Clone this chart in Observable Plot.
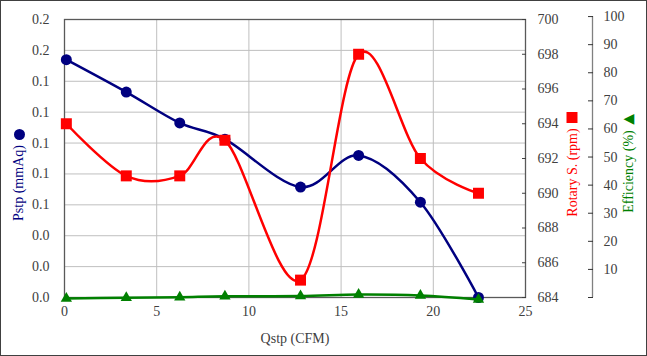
<!DOCTYPE html>
<html>
<head>
<meta charset="utf-8">
<script src="https://cdn.jsdelivr.net/npm/d3@7"></script>
<script src="https://cdn.jsdelivr.net/npm/@observablehq/plot@0.6"></script>
<style>
  html, body { margin: 0; padding: 0; background: #fff; }
  #wrap { position: relative; width: 647px; height: 356px; }
  #border { position: absolute; left: 0; top: 0; width: 647px; height: 356px; box-sizing: border-box; border: 1px solid #404040; pointer-events: none; }
  #chart svg text { font-family: 'Liberation Serif', 'Times New Roman', serif; }
  #chart svg text.sym { font-family: 'DejaVu Sans', sans-serif; }
</style>
</head>
<body>
<div id="wrap"><div id="chart"></div><div id="border"></div></div>
<script>
// Data
const qstp = [0.1, 3.35, 6.25, 8.7, 12.8, 15.95, 19.3, 22.45];          // Qstp (CFM)
const pstp = [0.154, 0.133, 0.113, 0.1025, 0.0715, 0.092, 0.0617, 0.0];  // Pstp (mmAq)
const rotary = [694.0, 691.0, 691.0, 693.05, 685.0, 698.0, 692.0, 690.0]; // Rotary S. (rpm)
const efficiency = [-0.35, -0.1, 0.1, 0.45, 0.5, 1.05, 0.7, -0.7];       // Efficiency (%)

const pTicks = [0, 0.02, 0.04, 0.06, 0.08, 0.10, 0.12, 0.14, 0.16, 0.18];
const rpmTicks = [684, 686, 688, 690, 692, 694, 696, 698, 700];
const effTicks = [0, 10, 20, 30, 40, 50, 60, 70, 80, 90, 100];
const xTicks = [0, 5, 10, 15, 20, 25];
const xGrid = [5, 10, 15, 20];

// Map secondary axes onto the primary (Pstp) scale
const rpmToP = r => (r - 684) / 16 * 0.18;
const pToRpm = p => 684 + p / 0.18 * 16;
const effToP = e => e / 100 * 0.1819;
const pToEff = p => p / 0.1819 * 100;

const rows = qstp.map((q, i) => ({
  q, p: pstp[i], r: rpmToP(rotary[i]), e: effToP(efficiency[i])
}));

const NAVY = "#000080", RED = "#ff0000", GREEN = "#008000";
const FONT = "'Liberation Serif', 'Times New Roman', serif";
const TXT = { fontFamily: FONT, fontSize: 14 };

const chart = Plot.plot({
  width: 647,
  height: 356,
  marginTop: 19,
  marginRight: 122,
  marginBottom: 59,
  marginLeft: 64,
  style: { fontFamily: FONT, fontSize: "14px", color: "#333", background: "transparent" },
  x: { domain: [0, 25] },
  y: { domain: [0, 0.18] },
  marks: [
    Plot.gridY(pTicks, { stroke: "#bfbfbf", strokeOpacity: 1, strokeWidth: 1 }),
    Plot.gridX(xGrid, { stroke: "#bfbfbf", strokeOpacity: 1, strokeWidth: 1 }),
    Plot.frame({ stroke: "#595959", strokeWidth: 1.3 }),
    Plot.axisY(pTicks, { ...TXT, anchor: "left", tickSize: 0, tickPadding: 15, tickFormat: d => d.toFixed(1), label: null, fill: "#404040" }),
    Plot.axisX(xTicks, { ...TXT, anchor: "bottom", tickSize: 0, tickPadding: 9, label: null, fill: "#404040" }),
    // Rotary axis (right of frame)
    Plot.axisY(rpmTicks.map(rpmToP), { ...TXT, anchor: "right", tickSize: 4, dx: -4, tickPadding: 12, tickFormat: p => String(Math.round(pToRpm(p))), label: null, stroke: "#404040", fill: "#404040" }),
    // Efficiency axis (offset)
    Plot.ruleX([25], { y1: effToP(0), y2: effToP(100), dx: 67, stroke: "#808080", strokeWidth: 1.3 }),
    Plot.axisY(effTicks.map(effToP), { ...TXT, anchor: "right", tickSize: 5, dx: 62, tickPadding: 11, tickFormat: p => { const v = Math.round(pToEff(p)); return v === 0 ? "" : String(v); }, label: null, stroke: "#333", fill: "#404040" }),
    // Axis titles
    Plot.text(["Qstp (CFM)"], { ...TXT, frameAnchor: "bottom", textAnchor: "middle", lineAnchor: "middle", dy: 41, fill: "#404040" }),
    Plot.text(["Pstp (mmAq)"], { ...TXT, frameAnchor: "left", textAnchor: "middle", lineAnchor: "middle", dx: -46, dy: 24.5, rotate: -90, fill: NAVY }),
    Plot.dot([0], { x: null, y: null, frameAnchor: "left", dx: -45, dy: -24, r: 5.5, fill: NAVY, stroke: "none" }),
    Plot.text(["Rotary S. (rpm)"], { ...TXT, frameAnchor: "right", textAnchor: "middle", lineAnchor: "middle", dx: 47, dy: 14, rotate: -90, fill: RED }),
    Plot.dot([0], { x: null, y: null, frameAnchor: "right", dx: 46.5, dy: -41, symbol: "square", r: 6.2, fill: RED, stroke: "none" }),
    Plot.text(["Efficiency (%)"], { ...TXT, frameAnchor: "right", textAnchor: "middle", lineAnchor: "middle", dx: 103.5, dy: 13, rotate: -90, fill: GREEN }),
    Plot.text(["◀"], { frameAnchor: "right", textAnchor: "middle", lineAnchor: "middle", dx: 103.5, dy: -40, fill: GREEN, fontSize: 14, className: "sym" }),
    // Series
    Plot.line(rows, { x: "q", y: "p", curve: "cardinal", stroke: NAVY, strokeWidth: 2.5 }),
    Plot.dot(rows, { x: "q", y: "p", r: 5.5, fill: NAVY, stroke: "none" }),
    Plot.line(rows, { x: "q", y: "r", curve: "cardinal", stroke: RED, strokeWidth: 2.5 }),
    Plot.dot(rows, { x: "q", y: "r", symbol: "square", r: 6.2, fill: RED, stroke: "none" }),
    Plot.line(rows, { x: "q", y: "e", curve: "cardinal", stroke: GREEN, strokeWidth: 2.5 }),
    Plot.dot(rows, { x: "q", y: "e", symbol: "triangle", r: 4.2, fill: GREEN, stroke: "none" })
  ]
});
document.getElementById("chart").appendChild(chart);
// Give the legend glyph a symbol font
chart.querySelectorAll("text").forEach(t => { if (t.textContent === "◀") t.setAttribute("class", "sym"); });
</script>
</body>
</html>
